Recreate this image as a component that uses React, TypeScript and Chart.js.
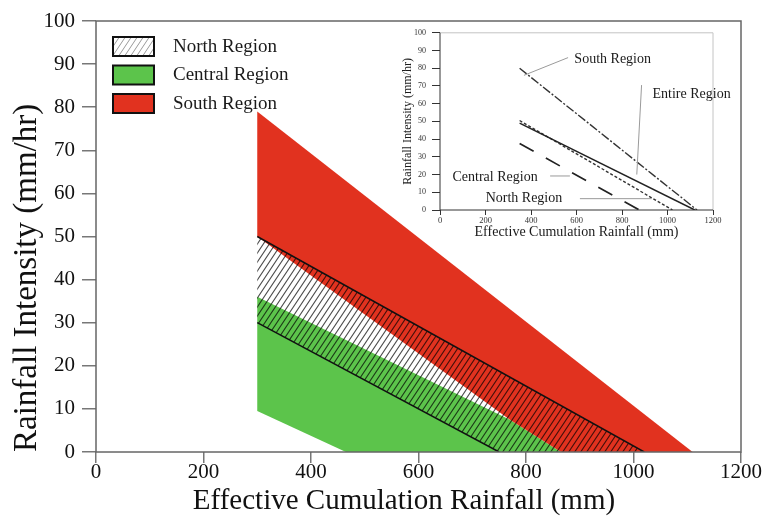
import React, { useEffect, useRef } from 'react';
import { Chart, registerables } from 'chart.js';

Chart.register(...registerables);

const SERIF = "'Liberation Serif', 'Times New Roman', Times, serif";

// ---------- main chart data ----------
const xMin = 0;
const xMax = 1200;
const xStep = 200;
const yMin = 0;
const yMax = 100;
const yStep = 10;

const southUpperX = [300, 1110];
const southUpperY = [79, 0];
const southLowerX = [300, 770, 865];
const southLowerY = [50, 7.5, 0];

const centralUpperX = [300, 770, 865];
const centralUpperY = [36, 7.5, 0];
const centralLowerX = [300, 465];
const centralLowerY = [9.5, 0];

const northUpperX = [300, 1020];
const northUpperY = [50, 0];
const northLowerX = [300, 750];
const northLowerY = [30, 0];

const regionNames = ['North Region', 'Central Region', 'South Region'];

// ---------- inset chart data ----------
const insetSouthX = [350, 1130];
const insetSouthY = [80, 0];
const insetEntireX = [350, 1120];
const insetEntireY = [49, 0];
const insetNorthX = [350, 1022];
const insetNorthY = [50.5, 0];
const insetCentralX = [350, 876];
const insetCentralY = [37.5, 0];

const insetLabels = ['South Region', 'Entire Region', 'Central Region', 'North Region'];
const insetLabelX = [759, 1106, 242, 369];
const insetLabelY = [85, 65, 18.3, 6.4];
const leaderX1 = [563, 886, 484, 615];
const leaderY1 = [86, 70.5, 19.2, 6.4];
const leaderX2 = [369, 865, 571, 930];
const leaderY2 = [76, 20, 19.2, 6.4];

const RED = '#E1321F';
const GREEN = '#5CC44B';

const pts = (xs: number[], ys: number[]) => xs.map((x, i) => ({ x, y: ys[i] }));
const polygon = (ux: number[], uy: number[], lx: number[], ly: number[]) => [
  ...pts(ux, uy),
  ...pts(lx, ly).reverse(),
];
const plain = (v: any) => String(v);

function makeHatch(color: string, bg: string | null, lw = 1.1) {
  const w = 6;
  const h = 9;
  const c = document.createElement('canvas');
  c.width = w;
  c.height = h;
  const g = c.getContext('2d')!;
  if (bg) {
    g.fillStyle = bg;
    g.fillRect(0, 0, w, h);
  }
  g.strokeStyle = color;
  g.lineWidth = lw;
  g.beginPath();
  for (const dx of [-w, 0, w]) {
    g.moveTo(dx - w, 2 * h);
    g.lineTo(dx + 2 * w, -h);
  }
  g.stroke();
  return g.createPattern(c, 'repeat')!;
}

export default function App() {
  const mainRef = useRef<HTMLCanvasElement>(null);
  const insetRef = useRef<HTMLCanvasElement>(null);

  useEffect(() => {
    const hatch = makeHatch('rgba(0,0,0,0.7)', null);
    const legendHatch = makeHatch('rgba(0,0,0,0.4)', '#ffffff', 1);
    const legendFills: (string | CanvasPattern)[] = [legendHatch, GREEN, RED];

    const framePlugin = {
      id: 'frame',
      afterDatasetsDraw(chart: any) {
        const { ctx, chartArea: a } = chart;
        ctx.save();
        ctx.strokeStyle = '#666';
        ctx.lineWidth = 1.5;
        ctx.strokeRect(a.left, a.top, a.right - a.left, a.bottom - a.top);
        ctx.restore();
      },
    };

    const legendPlugin = {
      id: 'regionLegend',
      afterDraw(chart: any) {
        const { ctx, chartArea } = chart;
        const x0 = chartArea.left + 17;
        const y0 = chartArea.top + 16;
        regionNames.forEach((name, i) => {
          const y = y0 + i * 28.5;
          ctx.save();
          ctx.fillStyle = legendFills[i];
          ctx.fillRect(x0, y, 41, 19);
          ctx.lineWidth = 2;
          ctx.strokeStyle = '#111';
          ctx.strokeRect(x0, y, 41, 19);
          ctx.fillStyle = '#1a1a1a';
          ctx.font = `19px ${SERIF}`;
          ctx.textBaseline = 'middle';
          ctx.textAlign = 'left';
          ctx.fillText(name, x0 + 60, y + 10);
          ctx.restore();
        });
      },
    };

    const main = new Chart(mainRef.current!, {
      type: 'line',
      data: {
        datasets: [
          {
            label: regionNames[0],
            data: polygon(northUpperX, northUpperY, northLowerX, northLowerY),
            fill: 'shape',
            backgroundColor: hatch,
            borderWidth: 0,
            pointRadius: 0,
            order: 1,
          },
          {
            label: 'North upper bound',
            data: pts(northUpperX, northUpperY),
            fill: false,
            borderColor: '#111',
            borderWidth: 1.5,
            pointRadius: 0,
            order: 0,
          },
          {
            label: 'North lower bound',
            data: pts(northLowerX, northLowerY),
            fill: false,
            borderColor: '#111',
            borderWidth: 1.5,
            pointRadius: 0,
            order: 0,
          },
          {
            label: regionNames[2],
            data: polygon(southUpperX, southUpperY, southLowerX, southLowerY),
            fill: 'shape',
            backgroundColor: RED,
            borderWidth: 0,
            pointRadius: 0,
            order: 2,
          },
          {
            label: regionNames[1],
            data: polygon(centralUpperX, centralUpperY, centralLowerX, centralLowerY),
            fill: 'shape',
            backgroundColor: GREEN,
            borderWidth: 0,
            pointRadius: 0,
            order: 3,
          },
        ],
      } as any,
      options: {
        responsive: false,
        animation: false,
        events: [],
        layout: { padding: { left: 0, right: 25, top: 21, bottom: 0 } },
        plugins: { legend: { display: false }, tooltip: { enabled: false } },
        scales: {
          x: {
            type: 'linear',
            min: xMin,
            max: xMax,
            ticks: {
              stepSize: xStep,
              maxRotation: 0,
              padding: -2,
              color: '#111',
              callback: plain,
              font: { family: SERIF, size: 21, lineHeight: 1.1 },
            },
            grid: { drawOnChartArea: false, drawTicks: true, tickLength: 11, color: '#777', lineWidth: 1.5 },
            border: { display: false },
            title: {
              display: true,
              text: 'Effective Cumulation Rainfall (mm)    ',
              color: '#111',
              font: { family: SERIF, size: 29, lineHeight: 1 },
              padding: { top: 0, bottom: 11 },
            },
            afterFit: (s: any) => {
              s.height = 75;
            },
          },
          y: {
            type: 'linear',
            min: yMin,
            max: yMax,
            ticks: {
              stepSize: yStep,
              padding: 7,
              color: '#111',
              callback: plain,
              font: { family: SERIF, size: 21 },
            },
            grid: { drawOnChartArea: false, drawTicks: true, tickLength: 14, color: '#777', lineWidth: 1.5 },
            border: { display: false },
            title: {
              display: true,
              text: 'Rainfall Intensity (mm/hr)',
              align: 'start',
              color: '#111',
              font: { family: SERIF, size: 33, lineHeight: 1 },
              padding: { top: 11, bottom: 0 },
            },
            afterFit: (s: any) => {
              s.width = 96;
            },
          },
        },
      } as any,
      plugins: [framePlugin, legendPlugin],
    });

    const insetFrame = {
      id: 'insetFrame',
      afterDatasetsDraw(chart: any) {
        const { ctx, chartArea: a } = chart;
        ctx.save();
        ctx.lineWidth = 1;
        ctx.strokeStyle = '#c4c4c4';
        ctx.beginPath();
        ctx.moveTo(a.left, a.top);
        ctx.lineTo(a.right, a.top);
        ctx.lineTo(a.right, a.bottom);
        ctx.stroke();
        ctx.strokeStyle = '#333';
        ctx.beginPath();
        ctx.moveTo(a.left, a.top);
        ctx.lineTo(a.left, a.bottom);
        ctx.lineTo(a.right, a.bottom);
        ctx.stroke();
        ctx.restore();
      },
    };

    const insetAnnot = {
      id: 'insetAnnot',
      afterDraw(chart: any) {
        const { ctx } = chart;
        const xs = chart.scales.x;
        const ys = chart.scales.y;
        ctx.save();
        ctx.strokeStyle = '#9a9a9a';
        ctx.lineWidth = 1;
        leaderX1.forEach((x1, i) => {
          ctx.beginPath();
          ctx.moveTo(xs.getPixelForValue(x1), ys.getPixelForValue(leaderY1[i]));
          ctx.lineTo(xs.getPixelForValue(leaderX2[i]), ys.getPixelForValue(leaderY2[i]));
          ctx.stroke();
        });
        ctx.fillStyle = '#1a1a1a';
        ctx.font = `14px ${SERIF}`;
        ctx.textAlign = 'center';
        ctx.textBaseline = 'middle';
        insetLabels.forEach((t, i) => {
          ctx.fillText(t, xs.getPixelForValue(insetLabelX[i]), ys.getPixelForValue(insetLabelY[i]));
        });
        ctx.restore();
      },
    };

    const inset = new Chart(insetRef.current!, {
      type: 'line',
      data: {
        datasets: [
          {
            label: 'South Region',
            data: pts(insetSouthX, insetSouthY),
            borderColor: '#333',
            borderWidth: 1.4,
            borderDash: [9, 2, 2, 2],
            pointRadius: 0,
            fill: false,
          },
          {
            label: 'Entire Region',
            data: pts(insetEntireX, insetEntireY),
            borderColor: '#222',
            borderWidth: 1.5,
            pointRadius: 0,
            fill: false,
          },
          {
            label: 'North Region',
            data: pts(insetNorthX, insetNorthY),
            borderColor: '#333',
            borderWidth: 1.4,
            borderDash: [3, 2],
            pointRadius: 0,
            fill: false,
          },
          {
            label: 'Central Region',
            data: pts(insetCentralX, insetCentralY),
            borderColor: '#222',
            borderWidth: 1.7,
            borderDash: [16, 14],
            pointRadius: 0,
            fill: false,
          },
        ],
      } as any,
      options: {
        responsive: false,
        animation: false,
        events: [],
        layout: { padding: { left: 0, right: 37, top: 6, bottom: 0 } },
        plugins: { legend: { display: false }, tooltip: { enabled: false } },
        scales: {
          x: {
            type: 'linear',
            min: xMin,
            max: xMax,
            ticks: {
              stepSize: xStep,
              maxRotation: 0,
              padding: 1,
              color: '#333',
              callback: plain,
              font: { family: SERIF, size: 8.5 },
            },
            grid: { drawOnChartArea: false, drawTicks: true, tickLength: 5, color: '#333', lineWidth: 1 },
            border: { display: false },
            title: {
              display: true,
              text: 'Effective Cumulation Rainfall (mm)',
              color: '#1a1a1a',
              font: { family: SERIF, size: 14, lineHeight: 1 },
              padding: { top: 0, bottom: 3 },
            },
            afterFit: (s: any) => {
              s.height = 32;
            },
          },
          y: {
            type: 'linear',
            min: yMin,
            max: yMax,
            ticks: {
              stepSize: yStep,
              padding: 6,
              color: '#333',
              callback: plain,
              font: { family: SERIF, size: 8 },
            },
            grid: { drawOnChartArea: false, drawTicks: true, tickLength: 8, color: '#333', lineWidth: 1 },
            border: { display: false },
            title: {
              display: true,
              text: 'Rainfall Intensity (mm/hr)',
              color: '#1a1a1a',
              font: { family: SERIF, size: 12, lineHeight: 1 },
              padding: { top: 22, bottom: 0 },
            },
            afterFit: (s: any) => {
              s.width = 60;
            },
          },
        },
      } as any,
      plugins: [insetFrame, insetAnnot],
    });

    return () => {
      main.destroy();
      inset.destroy();
    };
  }, []);

  return (
    <div style={{ position: 'absolute', left: 0, top: 0, width: 766, height: 527, background: '#ffffff' }}>
      <canvas ref={mainRef} width={766} height={527} style={{ position: 'absolute', left: 0, top: 0 }} />
      <canvas ref={insetRef} width={370} height={220} style={{ position: 'absolute', left: 380, top: 22 }} />
    </div>
  );
}
